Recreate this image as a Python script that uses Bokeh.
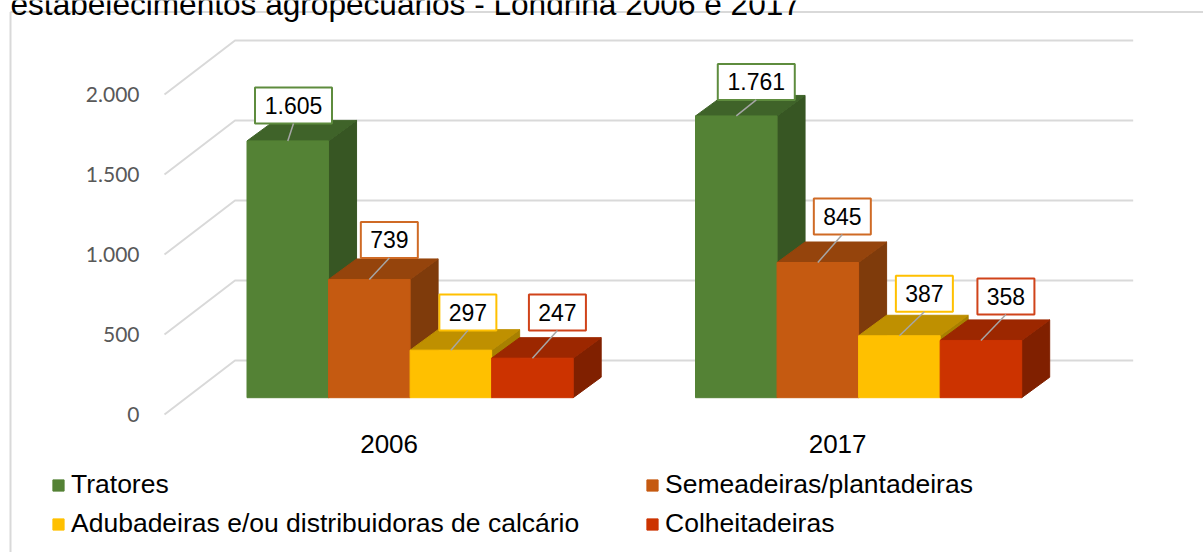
from bokeh.plotting import figure
from bokeh.embed import file_html
from bokeh.resources import INLINE
from bokeh.models import Range1d, FixedTicker, Legend, LegendItem
from bokeh.core.properties import value

# ---- data ----
years = ["2006", "2017"]
series_names = ["Tratores", "Semeadeiras/plantadeiras",
                "Adubadeiras e/ou distribuidoras de calcário", "Colheitadeiras"]
tratores = [1605, 1761]
semeadeiras = [739, 845]
adubadeiras = [297, 387]
colheitadeiras = [247, 358]
y_ticks = [0, 500, 1000, 1500, 2000]
y_tick_labels = ["0", "500", "1.000", "1.500", "2.000"]
title_text = "estabelecimentos agropecuários - Londrina 2006 e 2017"

# ---- styles ----
front = ["#548235", "#C55A11", "#FFC000", "#CC3300"]
top_c = ["#3F6329", "#95440C", "#BF9000", "#9C2700"]
side_c = ["#375623", "#7F3B0B", "#A88000", "#802000"]
box_c = ["#5E8C3E", "#CF6A25", "#FFC000", "#D0431A"]
grid_c = "#D9D9D9"

W, H = 1203, 552
PX_Y = 0.16        # px per value unit
X0, XP = 388.6, 448.5   # px of category 0, px per category
Y0 = 414.0         # px of value 0 on axis plane


def xd(px):
    return (px - X0) / XP


def yd(py):
    return (Y0 - py) / PX_Y


bar_w = 1 / 5.5
bar_shift = 21 / XP
depth_x = 28 / XP
depth_y = 20.5 / PX_Y
base = 16.8 / PX_Y
back_y = 54 / PX_Y

p = figure(width=W, height=H, output_backend="svg", toolbar_location=None,
           x_range=Range1d(xd(0), xd(W)), y_range=Range1d(yd(H), yd(0)),
           min_border=0, min_border_left=0, min_border_right=0, min_border_top=0,
           min_border_bottom=0, outline_line_color=None, background_fill_color="white")
p.styles = {"position": "absolute", "left": "0px", "top": "0px"}
p.grid.visible = False

# outer chart border
p.line([xd(10), xd(10)], [yd(H), yd(11.5)], line_color=grid_c, line_width=2)
p.line([xd(10), xd(W)], [yd(11.5), yd(11.5)], line_color=grid_c, line_width=2)

# back wall gridlines with floor-like diagonals
gx0, gx1, gx2 = xd(164), xd(234.5), xd(1132.7)
p.multi_line([[gx0, gx1, gx2] for _ in y_ticks],
             [[t, t + back_y, t + back_y] for t in y_ticks],
             line_color=grid_c, line_width=2)

# axes drawn inside the frame
yax = p.yaxis[0]
yax.fixed_location = xd(151)
yax.ticker = FixedTicker(ticks=y_ticks)
yax.major_label_overrides = {t: l for t, l in zip(y_ticks, y_tick_labels)}
yax.axis_line_color = None
yax.major_tick_line_color = None
yax.minor_tick_line_color = None
yax.major_label_standoff = 6
yax.major_label_text_font = "Lato"
yax.major_label_text_font_size = "21px"
yax.major_label_text_color = "#595959"

xax = p.xaxis[0]
xax.fixed_location = yd(426.5)
xax.ticker = FixedTicker(ticks=list(range(len(years))))
xax.major_label_overrides = {i: y for i, y in enumerate(years)}
xax.axis_line_color = None
xax.major_tick_line_color = None
xax.minor_tick_line_color = None
xax.major_label_standoff = 2
xax.major_label_text_font = "Liberation Sans"
xax.major_label_text_font_size = "26px"
xax.major_label_text_color = "#000000"

all_series = [tratores, semeadeiras, adubadeiras, colheitadeiras]
fronts = []
for s, vals in enumerate(all_series):
    lefts = [g + bar_shift + (-2 + s) * bar_w for g in range(len(years))]
    rights = [l + bar_w for l in lefts]
    tops = [v + base for v in vals]
    p.patches([[r, r + depth_x, r + depth_x, r] for r in rights],
              [[base, base + depth_y, t + depth_y, t] for t in tops],
              fill_color=side_c[s], line_color=side_c[s], line_width=1)
    p.patches([[l, l + depth_x, r + depth_x, r] for l, r in zip(lefts, rights)],
              [[t, t + depth_y, t + depth_y, t] for t in tops],
              fill_color=top_c[s], line_color=top_c[s], line_width=1)
    fronts.append(p.quad(left=lefts, right=rights, bottom=base, top=tops,
                         fill_color=front[s], line_color=front[s], line_width=1))

# data-label placement: box centre relative to bar's front-top centre, in px
label_dx = [[5.7, 20], [20, 24.5], [17, 25], [25, 25]]
label_up = [[35.5, 34], [39.5, 46], [37.8, 42], [45.8, 44]]
box_h = 36
for s, vals in enumerate(all_series):
    for g, v in enumerate(vals):
        cx = g + bar_shift + (-2 + s + 0.5) * bar_w
        ty = v + base
        bx = cx + label_dx[s][g] / XP
        by = ty + label_up[s][g] / PX_Y
        txt = f"{v:,}".replace(",", ".")
        hw = (38.5 if v >= 1000 else 28.5) / XP
        hh = (box_h / 2) / PX_Y
        p.quad(left=bx - hw, right=bx + hw, bottom=by - hh, top=by + hh,
               fill_color="white", line_color=box_c[s], line_width=2)
        p.line([cx, bx], [ty, by - hh], line_color="#A6A6A6", line_width=1.5)
        p.text(x=[bx], y=[by], text=[txt], text_align="center", text_baseline="middle",
               text_font=value("Liberation Sans"), text_font_size="23px", text_color="#000000")

# clipped title at the very top of the picture
p.text(x=[xd(10)], y=[yd(3.5)], text=[title_text], text_align="left", text_baseline="alphabetic",
       text_font=value("Liberation Sans"), text_font_size="31.6px", text_color="#000000")


def make_legend(idx, x_px):
    leg = Legend(items=[LegendItem(label=series_names[i], renderers=[fronts[i]]) for i in idx],
                 location=(x_px, H - 539), orientation="vertical",
                 glyph_width=14, glyph_height=14, label_standoff=6, spacing=8,
                 padding=0, margin=0, border_line_color=None, background_fill_alpha=0,
                 label_text_font="Liberation Sans", label_text_font_size="26.5px",
                 label_text_color="#000000")
    p.add_layout(leg, "center")


make_legend([0, 2], 51)
make_legend([1, 3], 645)

open("out.html", "w").write(file_html(p, INLINE))
